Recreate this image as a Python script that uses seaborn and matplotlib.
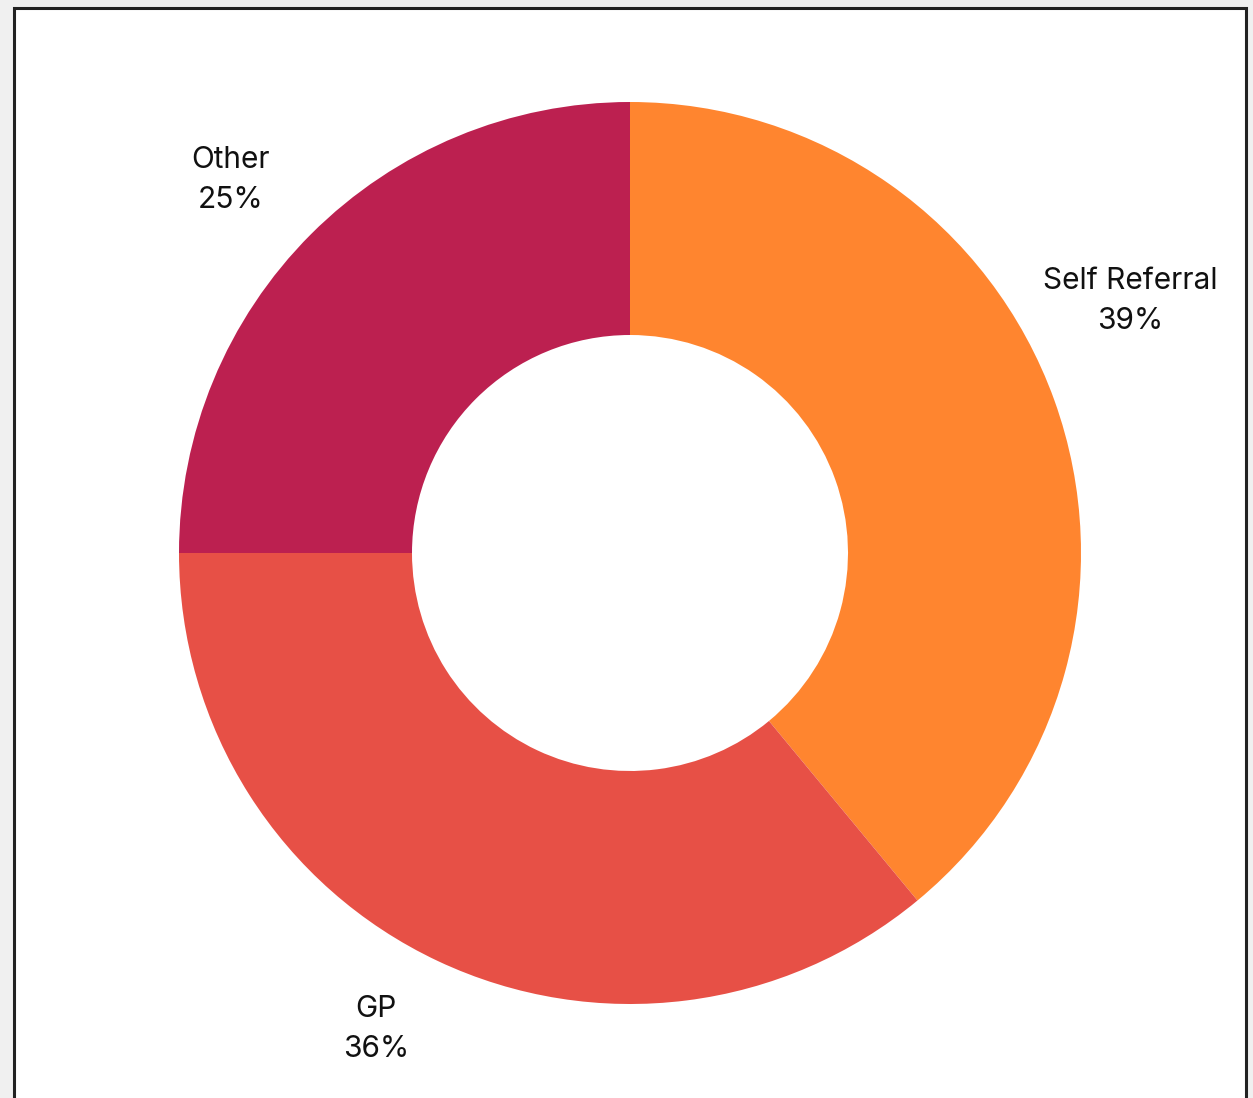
import matplotlib
matplotlib.use("Agg")
import matplotlib.pyplot as plt
import seaborn as sns
import numpy as np
from matplotlib.patches import Rectangle

categories = ["Self Referral", "GP", "Other"]
values = [39, 36, 25]
colors = ["#FF852F", "#E75046", "#BC2050"]

sns.set_theme(style="white")
plt.rcParams['font.family'] = ['Inter', 'DejaVu Sans']

W, H = 1253, 1098
fig = plt.figure(figsize=(W / 100, H / 100), dpi=100)
fig.patch.set_facecolor("#f0f0f0")

# background axes holding the white panel with dark border
bg = fig.add_axes([0, 0, 1, 1], zorder=-10)
bg.set_xlim(0, W)
bg.set_ylim(H, 0)
bg.axis("off")
bg.add_patch(Rectangle((13.5, 7.5), 1232, H + 20, facecolor="white",
                       edgecolor="#222222", linewidth=2.2))

cx, cy, half = 630, 553, 500
ax = fig.add_axes([(cx - half) / W, (H - cy - half) / H, 2 * half / W, 2 * half / H], zorder=1)
ax.patch.set_alpha(0)

R_out, R_in = 451, 218
wedges, _ = ax.pie(values, colors=colors, startangle=90, counterclock=False,
                   radius=R_out, wedgeprops=dict(width=R_out - R_in, linewidth=0),
                   center=(0, 0), frame=True)
ax.set_xlim(-half, half)
ax.set_ylim(-half, half)
ax.set_aspect("equal")
ax.axis("off")

label_offsets = [(500, 252), (-254, -476), (-399, 373)]
total = sum(values)
for cat, v, (dx, dy) in zip(categories, values, label_offsets):
    ax.text(dx, dy, f"{cat}\n{round(100 * v / total)}%", ha="center", va="center",
            fontsize=21.5, color="#111111", linespacing=1.55)

fig.savefig("out.png", dpi=100, facecolor=fig.get_facecolor())
